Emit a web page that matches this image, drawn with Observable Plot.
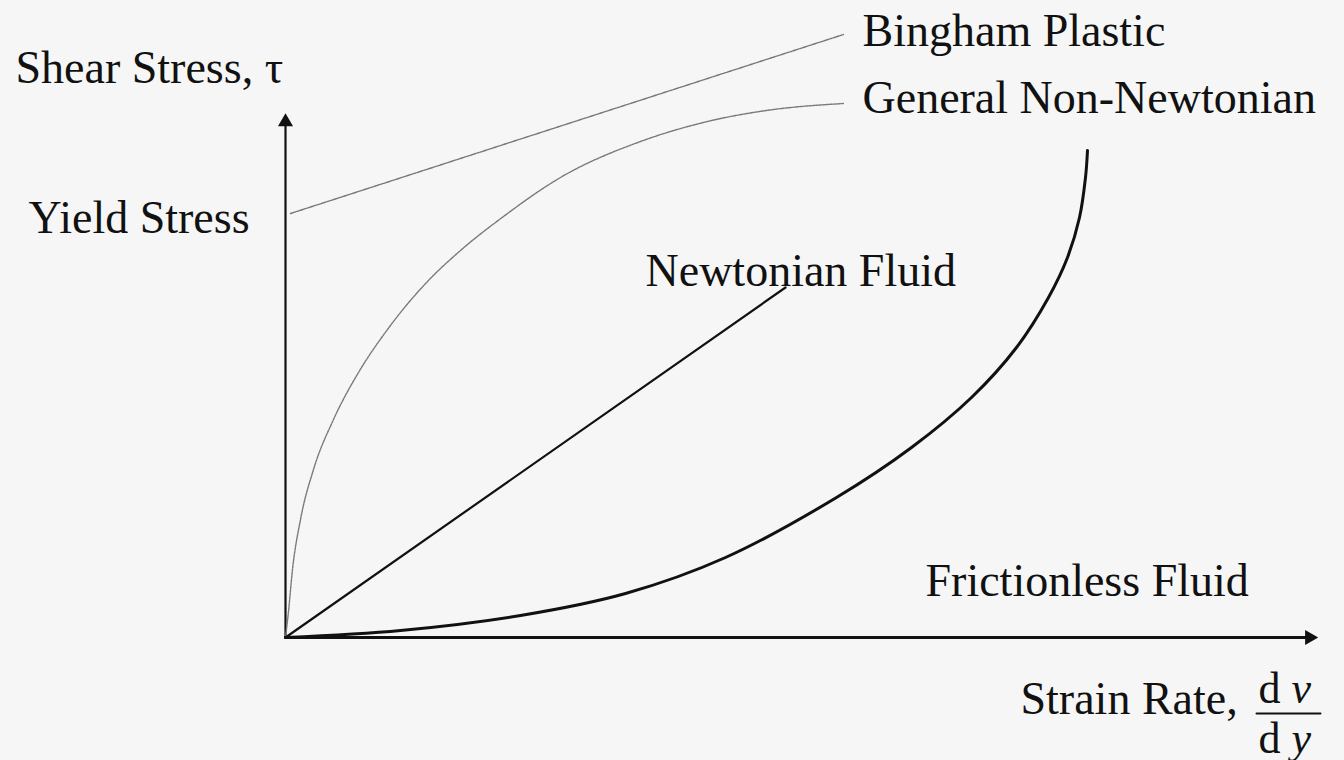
<!DOCTYPE html>
<html>
<head>
<meta charset="utf-8">
<script src="https://cdn.jsdelivr.net/npm/d3@7"></script>
<script src="https://cdn.jsdelivr.net/npm/@observablehq/plot@0.6"></script>
<style>
  html, body { margin: 0; padding: 0; background: #f6f6f6; }
  #chart svg { display: block; }
</style>
</head>
<body>
<div id="chart"></div>
<script>
// Strain rate (x) vs shear stress (y), arbitrary units
const newtonianX = [0, 5.0];
const newtonianY = [0, 7.0];

const binghamX = [0.05, 5.58];
const binghamY = [8.48, 12.06];

const generalX = [0, 0.03, 0.07, 0.15, 0.28, 0.48, 0.73, 1.02, 1.41, 1.75, 2.18, 2.75, 3.55, 4.22, 4.88, 5.58];
const generalY = [0, 0.52, 1.36, 2.36, 3.36, 4.36, 5.30, 6.16, 7.10, 7.74, 8.42, 9.20, 9.92, 10.32, 10.56, 10.68];

const dilatantX = [0, 1.15, 2.35, 3.40, 4.40, 5.51, 6.26, 6.86, 7.31, 7.63, 7.82, 7.94, 8.00, 8.02];
const dilatantY = [0, 0.14, 0.44, 0.88, 1.60, 2.80, 3.80, 4.80, 5.80, 6.80, 7.60, 8.40, 9.20, 9.74];

const frictionlessX = [0, 10.24];
const frictionlessY = [0, 0];

const axisEndX = 10.24;
const axisEndY = 10.31;

const labelText = ["Shear Stress, τ", "Yield Stress", "Bingham Plastic", "General Non-Newtonian", "Newtonian Fluid", "Frictionless Fluid", "Strain Rate,"];
const labelX = [-2.70, -2.57, 5.77, 5.77, 3.60, 6.40, 7.35];
const labelY = [11.10, 8.10, 11.84, 10.50, 7.04, 0.84, -1.52];

const fracTop = ["d", "v"];
const fracBottom = ["d", "y"];
const fracX = [9.73, 10.06];
const fracTopY = -1.30;
const fracBottomY = -2.30;
const fracBarX = [9.71, 10.35];
const fracBarY = -1.52;

const toRows = (xs, ys) => xs.map((x, i) => ({x, y: ys[i]}));

const labels = labelText.map((t, i) => ({t, x: labelX[i], y: labelY[i]}));
const fracRows = [
  ...fracTop.map((t, i) => ({t, x: fracX[i], y: fracTopY, italic: i === 1})),
  ...fracBottom.map((t, i) => ({t, x: fracX[i], y: fracBottomY, italic: i === 1}))
];

const chart = Plot.plot({
  width: 1344,
  height: 760,
  marginLeft: 285,
  marginRight: 59,
  marginTop: 137,
  marginBottom: 123,
  x: {domain: [0, 10], axis: null},
  y: {domain: [0, 10], axis: null},
  style: {fontFamily: "'Liberation Serif', 'Times New Roman', serif", background: "#f6f6f6", overflow: "visible"},
  marks: [
    // axes
    Plot.line(toRows([0, 0], [0, axisEndY]), {x: "x", y: "y", stroke: "#111", strokeWidth: 2.2}),
    Plot.line(toRows([0, axisEndX], [0, 0]), {x: "x", y: "y", stroke: "#111", strokeWidth: 2.8}),
    Plot.dot([{x: 0, y: axisEndY}], {x: "x", y: "y", symbol: "triangle", r: 5.6, fill: "#111", stroke: "none"}),
    Plot.dot([{x: axisEndX, y: 0}], {x: "x", y: "y", symbol: "triangle", r: 5.6, fill: "#111", stroke: "none", rotate: 90}),
    // series
    Plot.line(toRows(frictionlessX, frictionlessY), {x: "x", y: "y", stroke: "#111", strokeWidth: 2.8}),
    Plot.line(toRows(binghamX, binghamY), {x: "x", y: "y", stroke: "#777", strokeWidth: 1.4, strokeDasharray: "2.5,1"}),
    Plot.line(toRows(generalX, generalY), {x: "x", y: "y", curve: "monotone-x", stroke: "#7a7a7a", strokeWidth: 1.4, strokeDasharray: "2.5,1"}),
    Plot.line(toRows(newtonianX, newtonianY), {x: "x", y: "y", stroke: "#111", strokeWidth: 2.2}),
    Plot.line(toRows(dilatantX, dilatantY), {x: "x", y: "y", curve: "catmull-rom", stroke: "#111", strokeWidth: 3}),
    // labels
    Plot.text(labels, {x: "x", y: "y", text: "t", textAnchor: "start", lineAnchor: "bottom", fontSize: 46, fill: "#111"}),
    Plot.text(fracRows.filter(d => !d.italic), {x: "x", y: "y", text: "t", textAnchor: "start", lineAnchor: "bottom", fontSize: 44, fill: "#111"}),
    Plot.text(fracRows.filter(d => d.italic), {x: "x", y: "y", text: "t", textAnchor: "start", lineAnchor: "bottom", fontSize: 44, fontStyle: "italic", fill: "#111"}),
    Plot.line(toRows(fracBarX, [fracBarY, fracBarY]), {x: "x", y: "y", stroke: "#111", strokeWidth: 2})
  ]
});

document.getElementById("chart").appendChild(chart);
</script>
</body>
</html>
